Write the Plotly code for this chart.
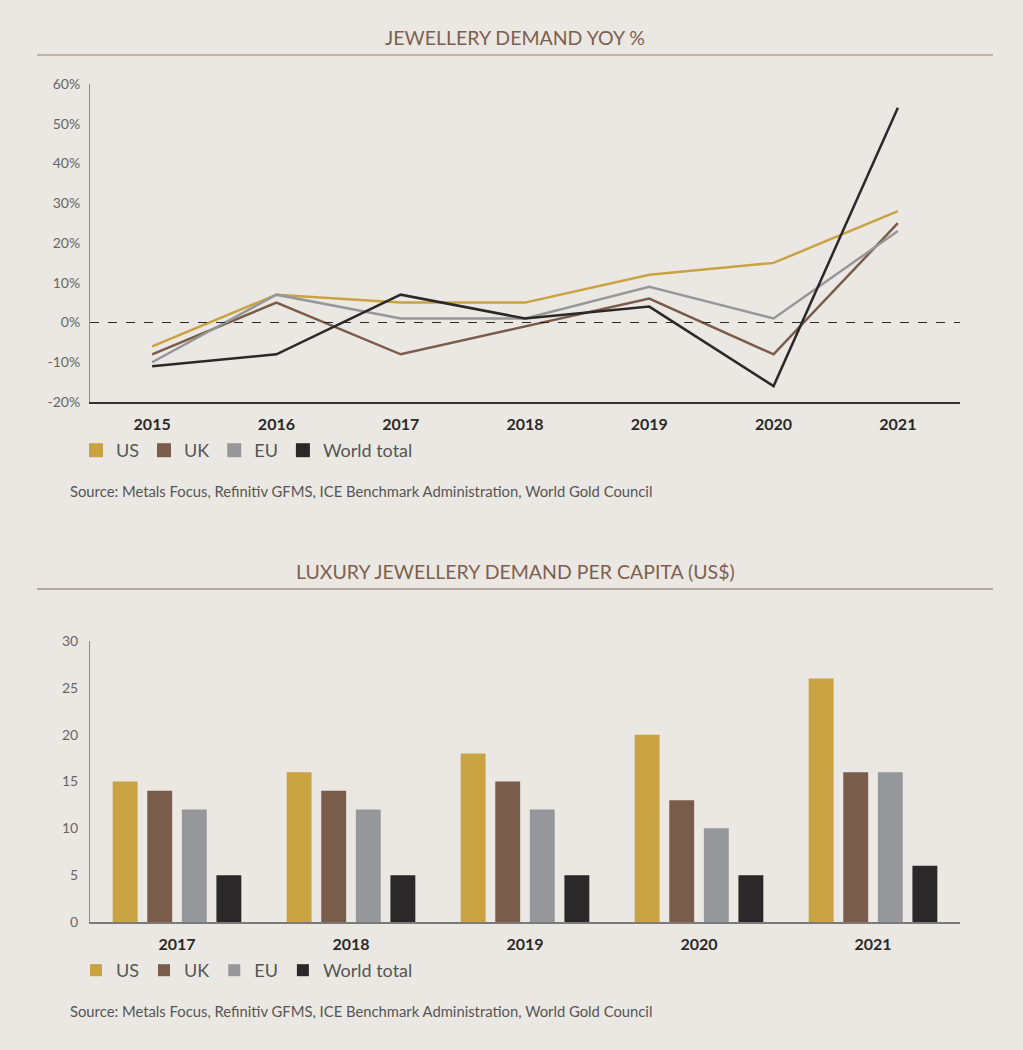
import plotly.graph_objects as go

# ---- data ----
years_line = ["2015", "2016", "2017", "2018", "2019", "2020", "2021"]
us_yoy = [-6, 7, 5, 5, 12, 15, 28]
uk_yoy = [-8, 5, -8, -1, 6, -8, 25]
eu_yoy = [-10, 7, 1, 1, 9, 1, 23]
world_yoy = [-11, -8, 7, 1, 4, -16, 54]
yoy_ticks = [-20, -10, 0, 10, 20, 30, 40, 50, 60]
yoy_ticktext = ["-20%", "-10%", "0%", "10%", "20%", "30%", "40%", "50%", "60%"]

years_bar = ["2017", "2018", "2019", "2020", "2021"]
us_pc = [15, 16, 18, 20, 26]
uk_pc = [14, 14, 15, 13, 16]
eu_pc = [12, 12, 12, 10, 16]
world_pc = [5, 5, 5, 5, 6]

series_names = ["US", "UK", "EU", "World total"]
colors = ["#C9A242", "#7A5C4A", "#96979A", "#2A2829"]

title1 = "JEWELLERY DEMAND YOY %"
title2 = "LUXURY JEWELLERY DEMAND PER CAPITA (US$)"
source = "Source: Metals Focus, Refinitiv GFMS, ICE Benchmark Administration, World Gold Council"

W, H = 1023, 1050
BG = "#EBE8E3"
FONT = "Lato"


def px_x(v):
    return v / W


def px_y(v):
    return 1 - v / H


fig = go.Figure()

# ---- line chart ----
for name, vals, col in zip(series_names, [us_yoy, uk_yoy, eu_yoy, world_yoy], colors):
    fig.add_trace(go.Scatter(x=years_line, y=vals, mode="lines", name=name,
                             line=dict(color=col, width=2.5),
                             xaxis="x", yaxis="y", showlegend=False))
# legend squares for line chart
for name, col in zip(series_names, colors):
    fig.add_trace(go.Scatter(x=[None], y=[None], mode="markers", name=name,
                             marker=dict(symbol="square", size=14, color=col),
                             xaxis="x", yaxis="y", legend="legend"))

# ---- bar chart ----
for name, vals, col in zip(series_names, [us_pc, uk_pc, eu_pc, world_pc], colors):
    fig.add_trace(go.Bar(x=years_bar, y=vals, name=name, marker=dict(color=col, line=dict(width=0)),
                         xaxis="x2", yaxis="y2", legend="legend2"))

axis_common = dict(showgrid=False, zeroline=False, fixedrange=True)
xtickfont = dict(size=16, color="#2A2829", family=FONT)
ytickfont = dict(size=14, color="#666666", family=FONT)
legfont = dict(size=18, color="#555555", family=FONT)

fig.update_layout(
    width=W, height=H,
    margin=dict(l=0, r=0, t=0, b=0, autoexpand=False),
    paper_bgcolor=BG, plot_bgcolor=BG,
    font=dict(family=FONT, color="#555555"),
    barmode="group", bargap=0.205, bargroupgap=0.28,
    xaxis=dict(domain=[px_x(90), px_x(960)], anchor="y", type="category",
               range=[-0.5, 6.5], showline=True, linecolor="#333333", linewidth=1.5,
               ticks="", tickfont=xtickfont, ticklabelstandoff=7, automargin=False,
               **axis_common),
    yaxis=dict(domain=[px_y(402), px_y(84)], anchor="x", range=[-20, 60],
               tickvals=yoy_ticks, ticktext=yoy_ticktext,
               showline=True, linecolor="#8A8A8A", linewidth=1, automargin=False,
               ticks="", tickfont=ytickfont, ticklabelstandoff=6, **axis_common),
    xaxis2=dict(domain=[px_x(90), px_x(960)], anchor="y2", type="category",
                range=[-0.5, 4.5], showline=True, linecolor="#7A7A7A", linewidth=2,
                ticks="", tickfont=xtickfont, ticklabelstandoff=7, automargin=False,
                **axis_common),
    yaxis2=dict(domain=[px_y(922), px_y(641)], anchor="x2", range=[0, 30], dtick=5,
                showline=True, linecolor="#8A8A8A", linewidth=1, automargin=False,
                ticks="", tickfont=ytickfont, ticklabelstandoff=8, **axis_common),
    legend=dict(orientation="h", x=px_x(76), y=px_y(432), xanchor="left", yanchor="top",
                font=legfont, bgcolor="rgba(0,0,0,0)", itemclick=False),
    legend2=dict(orientation="h", x=px_x(76), y=px_y(952), xanchor="left", yanchor="top",
                 font=legfont, bgcolor="rgba(0,0,0,0)", itemclick=False),
    showlegend=True,
)

# bold year labels
fig.update_xaxes(tickprefix="<b>", ticksuffix="</b>")

# zero dashed line
fig.add_shape(type="line", xref="x domain", yref="y", x0=0, x1=1, y0=0, y1=0,
              line=dict(color="#2A2829", width=1.2, dash="dash"))

# title rules
fig.add_shape(type="line", xref="paper", yref="paper", x0=px_x(37), x1=px_x(993),
              y0=px_y(55), y1=px_y(55), line=dict(color="#B3A096", width=1.5))
fig.add_shape(type="line", xref="paper", yref="paper", x0=px_x(37), x1=px_x(993),
              y0=px_y(589), y1=px_y(589), line=dict(color="#7E6A5E", width=1.2))

# titles and sources
for txt, ypx in [(title1, 37), (title2, 571)]:
    fig.add_annotation(text=txt, xref="paper", yref="paper", x=px_x(515), y=px_y(ypx),
                       xanchor="center", yanchor="middle", showarrow=False,
                       font=dict(size=19.5, color="#7D5F50", family=FONT))
for ypx in [491, 1011]:
    fig.add_annotation(text=source, xref="paper", yref="paper", x=px_x(68), y=px_y(ypx),
                       xanchor="left", yanchor="middle", showarrow=False,
                       font=dict(size=14.8, color="#555555", family=FONT))

fig.write_html("out.html")
